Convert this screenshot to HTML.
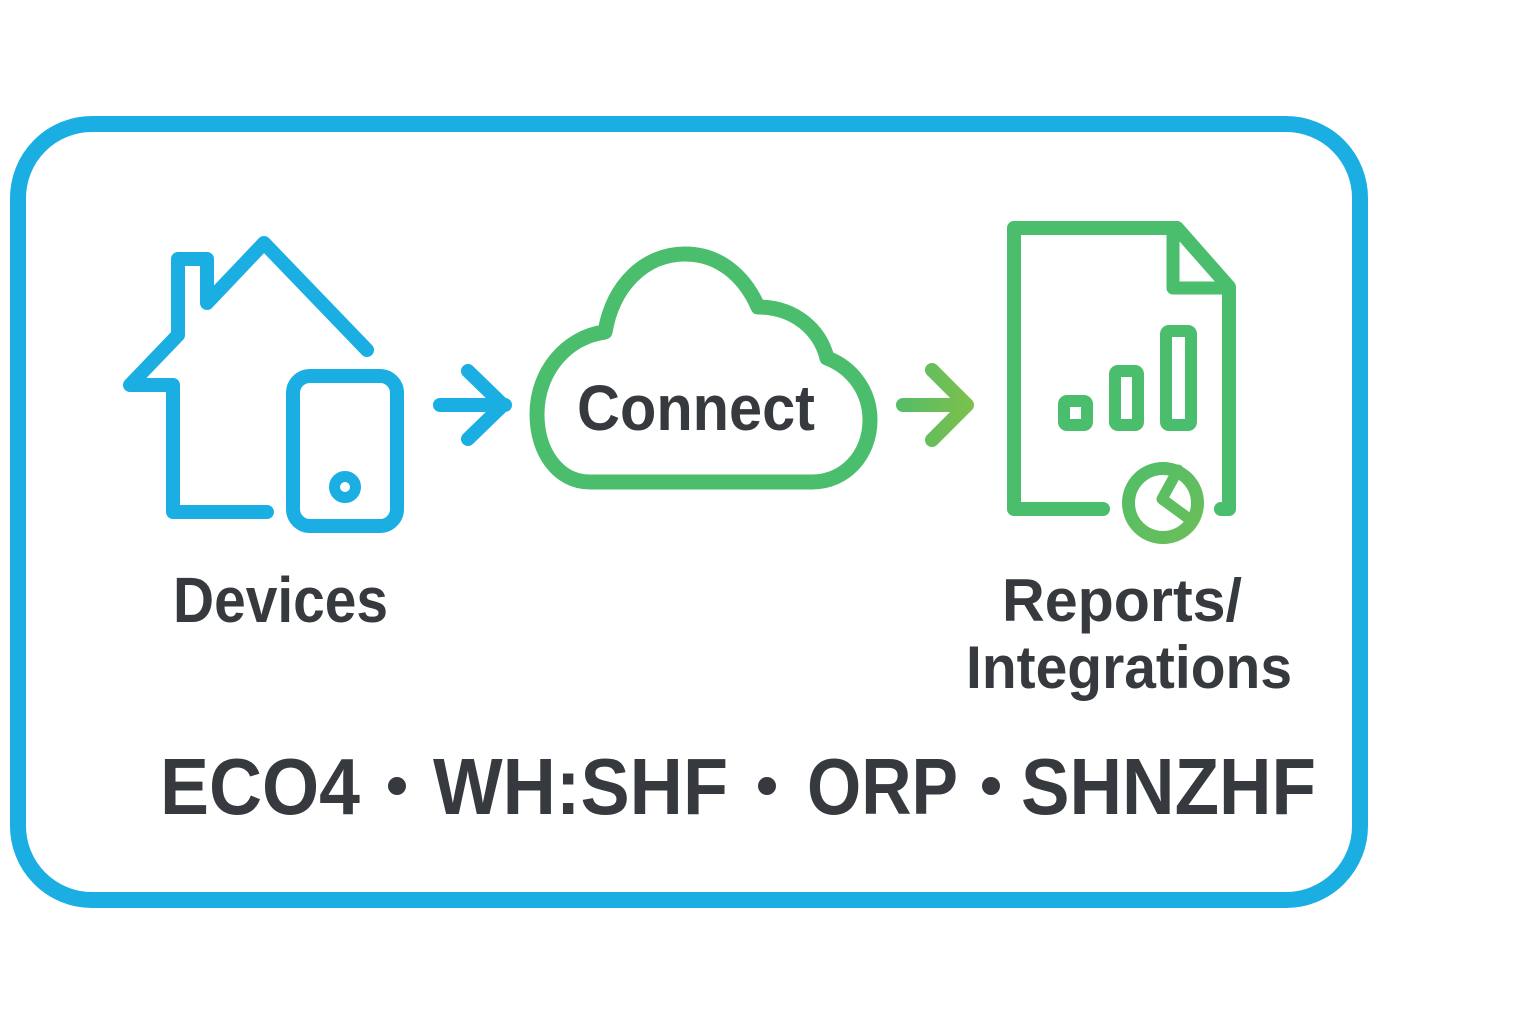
<!DOCTYPE html>
<html>
<head>
<meta charset="utf-8">
<style>
  html, body { margin: 0; padding: 0; background: #ffffff; }
  svg { display: block; }
  text { font-family: "Liberation Sans", Arial, sans-serif; font-weight: bold; fill: #36393d; }
</style>
</head>
<body>
<svg width="1536" height="1024" viewBox="0 0 1536 1024" xmlns="http://www.w3.org/2000/svg">
  <defs>
    <linearGradient id="garrow" x1="897" y1="0" x2="972" y2="0" gradientUnits="userSpaceOnUse">
      <stop offset="0" stop-color="#55bd68"/>
      <stop offset="1" stop-color="#7cc04c"/>
    </linearGradient>
    <linearGradient id="gpie" x1="1123" y1="459" x2="1203" y2="547" gradientUnits="userSpaceOnUse">
      <stop offset="0" stop-color="#4fbd69"/>
      <stop offset="1" stop-color="#6dbf58"/>
    </linearGradient>
  </defs>
  <rect width="1536" height="1024" fill="#ffffff"/>

  <!-- outer frame -->
  <rect x="18" y="124" width="1342" height="776" rx="74" ry="74" fill="none" stroke="#1aaee3" stroke-width="16"/>

  <!-- house -->
  <path d="M267,512 L173,512 L173,385 L130,385 L178,335 L178,259 L207,259 L207,303 L264,243 L367,350"
        fill="none" stroke="#1aaee3" stroke-width="14" stroke-linejoin="round" stroke-linecap="round"/>
  <!-- tablet -->
  <rect x="293" y="376" width="104" height="150" rx="17" ry="17" fill="none" stroke="#1aaee3" stroke-width="14"/>
  <circle cx="345" cy="487" r="10.5" fill="none" stroke="#1aaee3" stroke-width="11"/>

  <!-- blue arrow -->
  <path d="M440,405 L505,405 M468,371 L503,405 L468,439" fill="none" stroke="#1aaee3" stroke-width="14"
        stroke-linecap="round" stroke-linejoin="round"/>

  <!-- cloud -->
  <path d="M590,482
           C558,482 537,452 537,414
           C537,372 566,337 605,332
           C613,285 645,254 685,254
           C720,254 745,277 758,307
           C795,307 820,330 827,358
           C853,368 870,392 870,420
           C870,455 845,482 812,482 Z"
        fill="none" stroke="#4bbe6d" stroke-width="15" stroke-linejoin="round"/>
  <text x="577" y="430" font-size="64" textLength="238" lengthAdjust="spacingAndGlyphs">Connect</text>

  <!-- green arrow -->
  <path d="M903,405 L967,405 M932,370 L967,405 L932,440" fill="none" stroke="url(#garrow)" stroke-width="14"
        stroke-linecap="round" stroke-linejoin="round"/>

  <!-- report document -->
  <path d="M1103,509 L1014,509 L1014,228 L1177,228 L1229,287 L1229,509 L1221,509"
        fill="none" stroke="#4bbe6d" stroke-width="14" stroke-linejoin="round" stroke-linecap="round"/>
  <path d="M1173,230 L1173,288 L1228,288" fill="none" stroke="#4bbe6d" stroke-width="13" stroke-linejoin="round"/>
  <rect x="1064" y="401" width="23" height="24" rx="3" fill="none" stroke="#4bbe6d" stroke-width="12"/>
  <rect x="1115" y="371" width="23" height="54" rx="3" fill="none" stroke="#4bbe6d" stroke-width="12"/>
  <rect x="1166" y="331" width="25" height="94" rx="3" fill="none" stroke="#4bbe6d" stroke-width="12"/>
  <!-- pie -->
  <circle cx="1163" cy="503" r="34.5" fill="#ffffff" stroke="url(#gpie)" stroke-width="13"/>
  <path d="M1178,470 L1162,499 L1188,518" fill="none" stroke="url(#gpie)" stroke-width="11"
        stroke-linejoin="round" stroke-linecap="round"/>

  <!-- labels -->
  <text x="173" y="622" font-size="64" textLength="215" lengthAdjust="spacingAndGlyphs">Devices</text>
  <text x="1002" y="621" font-size="60" textLength="240" lengthAdjust="spacingAndGlyphs">Reports/</text>
  <text x="966" y="688" font-size="60" textLength="326" lengthAdjust="spacingAndGlyphs">Integrations</text>

  <!-- bottom line -->
  <text x="160" y="814" font-size="80" textLength="200" lengthAdjust="spacingAndGlyphs">ECO4</text>
  <circle cx="397" cy="786" r="9" fill="#36393d"/>
  <text x="433" y="814" font-size="80" textLength="295" lengthAdjust="spacingAndGlyphs">WH:SHF</text>
  <circle cx="767" cy="786" r="9" fill="#36393d"/>
  <text x="807" y="814" font-size="80" textLength="151" lengthAdjust="spacingAndGlyphs">ORP</text>
  <circle cx="991" cy="786" r="9" fill="#36393d"/>
  <text x="1021" y="814" font-size="80" textLength="295" lengthAdjust="spacingAndGlyphs">SHNZHF</text>
</svg>
</body>
</html>
